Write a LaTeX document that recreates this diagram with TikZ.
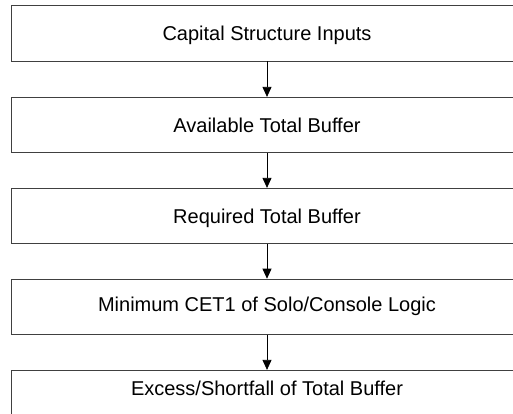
\documentclass[tikz,border=0pt]{standalone}
\usepackage{fontspec}
\setmainfont{Liberation Sans}
\usetikzlibrary{arrows.meta}
\begin{document}
\begin{tikzpicture}[x=1pt,y=-1pt,
  box/.style={draw=black!75,line width=0.9pt,minimum width=510.6pt,minimum height=55.3pt,
    inner sep=0pt,font=\fontsize{20pt}{24pt}\selectfont,text height=14.3pt,text depth=0pt},
  flow/.style={draw=black,line width=0.8pt,-{Triangle[width=9pt,length=10pt]}}]
\useasboundingbox (0,0) rectangle (513,414);
\clip (0,0) rectangle (513,414);
\node[box] (b1) at (267,33.4) {Capital Structure Inputs};
\node[box] (b2) at (267,125) {Available Total Buffer};
\node[box] (b3) at (267,216) {Required Total Buffer};
\node[box,text depth=5.6pt] (b4) at (267,306.8) {Minimum CET1 of Solo/Console Logic};
\node[box,text depth=19pt] (b5) at (267,398) {Excess/Shortfall of Total Buffer};
\draw[flow] (b1.south) -- (b2.north);
\draw[flow] (b2.south) -- (b3.north);
\draw[flow] (b3.south) -- (b4.north);
\draw[flow] (b4.south) -- (b5.north);
\end{tikzpicture}
\end{document}
